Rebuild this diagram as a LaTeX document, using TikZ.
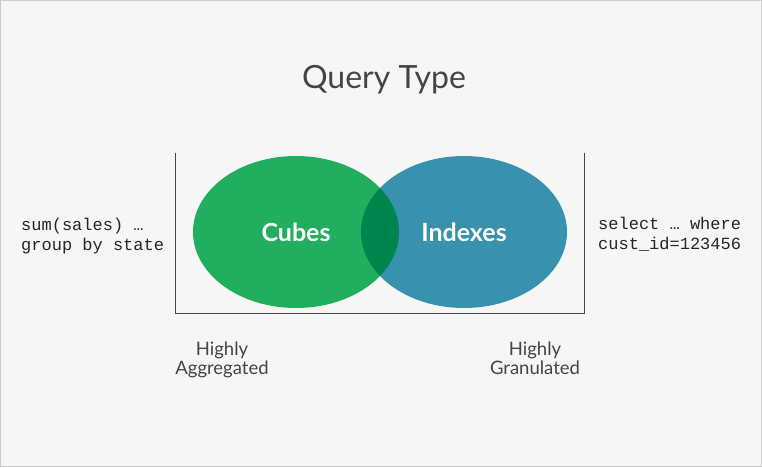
\documentclass[tikz,border=0pt]{standalone}
\usepackage{fontspec}
\setmainfont{Lato}
\setmonofont{Liberation Mono}
\usepackage{tikz}
\usetikzlibrary{positioning,calc,shapes.geometric}

\definecolor{bgcol}{HTML}{F6F6F6}
\definecolor{framecol}{HTML}{CCCCCC}
\definecolor{txtcol}{HTML}{444444}
\definecolor{cubecol}{HTML}{21AE5E}
\definecolor{indexcol}{HTML}{3891AD}
\definecolor{bothcol}{HTML}{00854F}

\tikzset{
  blob/.style={ellipse,minimum width=206pt,minimum height=152pt,inner sep=0pt,
    text=white,font=\fontsize{25}{28}\selectfont\bfseries},
  sqltext/.style={align=left,inner sep=0pt,text=black!85,
    font=\ttfamily\fontsize{17}{20}\selectfont},
  endlabel/.style={align=center,inner sep=0pt,text=txtcol,
    font=\fontsize{18.5}{19}\selectfont}
}

\begin{document}
\begin{tikzpicture}[x=1pt,y=-1pt]
% Background
\fill[bgcol,draw=framecol] (0.5,0.5) rectangle (761.5,466.5);
\useasboundingbox (0,0) rectangle (762,467);

% Title
\node[anchor=base,text=txtcol,font=\fontsize{32}{38}\selectfont] (title) at (384,88) {Query Type};

% Circles
\node[blob,fill=cubecol] (cubes) at (296,232) {Cubes};
\node[blob,fill=indexcol] (indexes) at (464,232) {\phantom{Indexes}};
\begin{scope}
  \clip (cubes.center) ellipse [x radius=103, y radius=76];
  \fill[bothcol] (indexes.center) ellipse [x radius=103, y radius=76];
\end{scope}
\node[text=white,font=\fontsize{25}{28}\selectfont\bfseries] at (indexes.center) {Indexes};

% Bracket
\coordinate (ltop) at (175,153);
\coordinate (lbot) at (175,313);
\coordinate (rbot) at (584,313);
\coordinate (rtop) at (584,153);
\draw[txtcol,line width=0.8pt] (ltop) -- (lbot) -- (rbot) -- (rtop);

% Query examples
\node[sqltext,anchor=base west] (sumq) at (21,250) {sum(sales) …\\group by state};
\node[sqltext,anchor=base west] (selq) at (598,249) {select … where\\cust\_id=123456};

% Ends of the scale
\node[endlabel,anchor=base] (aggr) at (222,374) {Highly\\Aggregated};
\node[endlabel,anchor=base] (gran) at (535,374) {Highly\\Granulated};
\end{tikzpicture}
\end{document}
